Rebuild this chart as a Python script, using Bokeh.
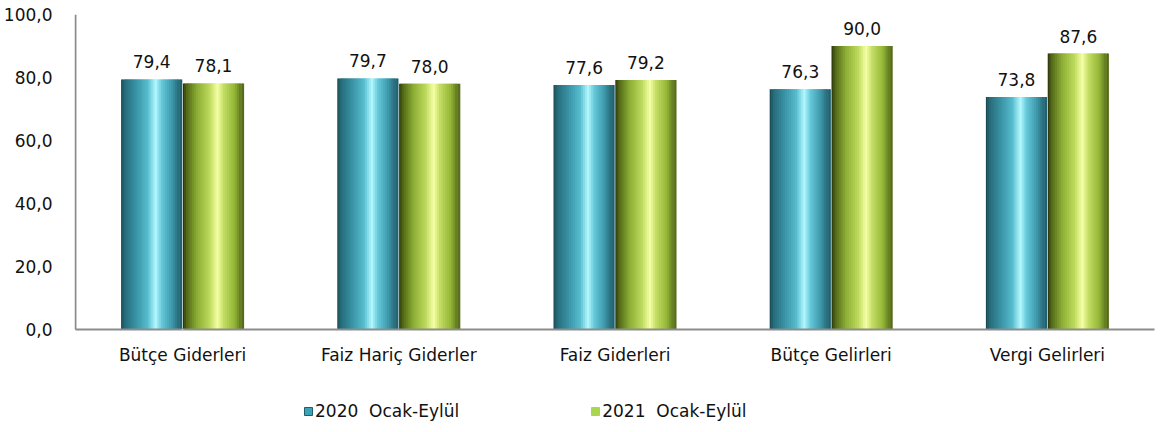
from bokeh.plotting import figure
from bokeh.models import (ColumnDataSource, FactorRange, CustomJSTickFormatter, LabelSet,
                          Legend, LegendItem)
from bokeh.core.properties import value
from bokeh.transform import dodge
from bokeh.embed import file_html
from bokeh.resources import INLINE

categories = ["Bütçe Giderleri", "Faiz Hariç Giderler", "Faiz Giderleri", "Bütçe Gelirleri", "Vergi Gelirleri"]
v2020 = [79.4, 79.7, 77.6, 76.3, 73.8]
v2021 = [78.1, 78.0, 79.2, 90.0, 87.6]
series_names = ["2020  Ocak-Eylül", "2021  Ocak-Eylül"]
y_ticks = [0, 20, 40, 60, 80, 100]

FONT = "DejaVu Sans"
AXIS_COLOR = "#8c8c8c"

def fmt(v):
    return f"{v:.1f}".replace(".", ",")

src = ColumnDataSource(dict(
    cat=categories, v2020=v2020, v2021=v2021, base=[0] * len(categories),
    l2020=[fmt(v) for v in v2020], l2021=[fmt(v) for v in v2021],
))

# frame extends below zero so the legend can sit inside it
p = figure(x_range=FactorRange(*categories, range_padding=0), y_range=(-30.5, 100),
           width=1160, height=430, output_backend="svg", toolbar_location=None,
           min_border_left=66, min_border_right=5, min_border_top=14, min_border_bottom=5)
p.outline_line_color = None
p.grid.grid_line_color = None
p.background_fill_color = "white"
p.border_fill_color = "white"
p.xaxis.visible = False


def hex2rgb(h):
    h = h.lstrip("#")
    return tuple(int(h[i:i + 2], 16) for i in (0, 2, 4))


def grad(stops, t):
    for (p0, c0), (p1, c1) in zip(stops, stops[1:]):
        if p0 <= t <= p1:
            f = (t - p0) / (p1 - p0) if p1 > p0 else 0
            a, b = hex2rgb(c0), hex2rgb(c1)
            return "#%02x%02x%02x" % tuple(int(round(a[i] + (b[i] - a[i]) * f)) for i in range(3))
    return stops[-1][1]


teal_stops = [(0.0, "#173f48"), (0.07, "#256a78"), (0.25, "#3791a3"), (0.45, "#56bccd"),
              (0.58, "#b4f8ff"), (0.68, "#66c9da"), (0.85, "#3c98aa"), (1.0, "#205a66")]
green_stops = [(0.0, "#1f260a"), (0.07, "#4f6516"), (0.25, "#8cae35"), (0.45, "#bcd95c"),
               (0.58, "#f6ffa6"), (0.68, "#c4de65"), (0.86, "#93b636"), (1.0, "#4e6219")]

bar_w = 0.283
offsets = [-0.143, 0.143]
N = 30
sw = bar_w / N
for col, off, stops in (("v2020", offsets[0], teal_stops), ("v2021", offsets[1], green_stops)):
    for k in range(N):
        t = (k + 0.5) / N
        c = grad(stops, t)
        w = sw if k in (0, N - 1) else sw * 2.0
        xo = off - bar_w / 2 + (k + 0.5) * sw
        p.vbar(x=dodge("cat", xo, range=p.x_range), top=col, width=w, bottom="base",
               source=src, fill_color=c, line_color=None)

# axis lines
edge = ColumnDataSource(dict(c0=[categories[0]], c1=[categories[-1]], y0=[0], y1=[y_ticks[-1]]))
p.segment(x0=dodge("c0", -0.4955, range=p.x_range), y0="y0",
          x1=dodge("c0", -0.4955, range=p.x_range), y1="y1",
          source=edge, line_color=AXIS_COLOR, line_width=2)
p.segment(x0=dodge("c0", -0.4955, range=p.x_range), y0="y0",
          x1=dodge("c1", 0.4955, range=p.x_range), y1="y0",
          source=edge, line_color=AXIS_COLOR, line_width=2)

# value labels
for col, lab, off in (("v2020", "l2020", offsets[0]), ("v2021", "l2021", offsets[1])):
    p.add_layout(LabelSet(x=dodge("cat", off, range=p.x_range), y=col, text=lab, source=src,
                          text_align="center", text_baseline="bottom", y_offset=11,
                          text_font=value(FONT), text_font_size="17px", text_color="#111111"))

# category labels
p.add_layout(LabelSet(x="cat", y="base", text="cat", source=src, text_align="center",
                      text_baseline="middle", y_offset=-26, text_font=value(FONT),
                      text_font_size="17px", text_color="#111111"))

# y axis
p.yaxis.ticker = y_ticks
p.yaxis.formatter = CustomJSTickFormatter(code="return tick.toFixed(1).replace('.', ',');")
p.yaxis.axis_line_color = None
p.yaxis.major_tick_line_color = None
p.yaxis.minor_tick_line_color = None
p.yaxis.major_label_text_font = FONT
p.yaxis.major_label_text_font_size = "17px"
p.yaxis.major_label_text_color = "#111111"
p.yaxis.major_label_standoff = 16

# legend (zero-height proxy bars carry the legend swatches)
proxy = ColumnDataSource(dict(x=[categories[0]], top=[0], bottom=[0]))
r1 = p.vbar(x="x", top="top", bottom="bottom", width=0.01, source=proxy,
            fill_color="#3aa3b5", line_color="#1f5e6a", line_width=1)
r2 = p.vbar(x="x", top="top", bottom="bottom", width=0.01, source=proxy,
            fill_color="#a9d54f", line_color="#a9d54f", line_width=1)
legend = Legend(items=[LegendItem(label=series_names[0], renderers=[r1], index=0),
                       LegendItem(label=series_names[1], renderers=[r2], index=0)],
                orientation="horizontal", location=(229, 4),
                label_text_font=FONT, label_text_font_size="17px", label_text_color="#111111",
                glyph_width=10, glyph_height=10, spacing=131, padding=0, margin=0,
                label_standoff=2, border_line_color=None, background_fill_alpha=0)
p.add_layout(legend, "center")

open("out.html", "w").write(file_html(p, INLINE))
